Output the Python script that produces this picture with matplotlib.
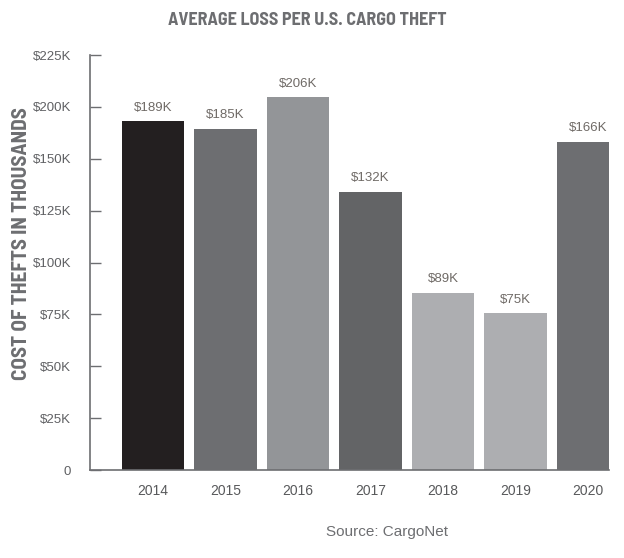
import numpy as np
import matplotlib.pyplot as plt

# Data (bar heights in $K as drawn on the axis, labels as printed)
years = ['2014', '2015', '2016', '2017', '2018', '2019', '2020']
heights = [189, 185, 202, 151, 96, 85, 178]
value_labels = ['$189K', '$185K', '$206K', '$132K', '$89K', '$75K', '$166K']
ytick_labels = ['0', '$25K', '$50K', '$75K', '$100K', '$125K', '$150K', '$200K', '$225K']
colors = ['#231f20', '#6d6e71', '#939598', '#636466', '#adaeb1', '#adaeb1', '#6d6e71']

plt.rcParams['font.family'] = ['Liberation Sans', 'DejaVu Sans']
cond = ['Barlow Semi Condensed', 'DejaVu Sans']

fig = plt.figure(figsize=(6.24, 5.58), dpi=100)
ax = fig.add_axes([0.1442, 0.1577, 0.976 - 0.1442, 0.9014 - 0.1577])

x = range(len(years))
bars = ax.bar(x, heights, width=0.86, color=colors, zorder=2)

for b, lab in zip(bars, value_labels):
    ax.annotate(lab, (b.get_x() + b.get_width() / 2, b.get_height()),
                xytext=(0, 5.5), textcoords='offset points',
                ha='center', va='bottom', fontsize=9.5, color='#6f6a66')

ax.set_ylim(0, 225)
ax.set_xlim(-0.87, 6.29)
ax.set_yticks(np.linspace(0, 225, len(ytick_labels)))
ax.set_yticklabels(ytick_labels)
ax.set_xticks(list(x))
ax.set_xticklabels(years)

for s in ['top', 'right']:
    ax.spines[s].set_visible(False)
for s in ['left', 'bottom']:
    ax.spines[s].set_color('#6d6e71')
    ax.spines[s].set_linewidth(1.2)

ax.tick_params(axis='y', direction='in', length=8, width=1, color='#6d6e71',
               pad=13.5, labelsize=9.5, labelcolor='#5f6063')
ax.tick_params(axis='x', length=0, pad=10, labelsize=10, labelcolor='#58595b')

fig.text(0.492, 0.964, 'AVERAGE LOSS PER U.S. CARGO THEFT', ha='center', va='center',
         fontsize=13, fontweight='bold', family=cond, color='#6d6e71')
fig.text(0.035, 0.563, 'COST OF THEFTS IN THOUSANDS', rotation=90, ha='center', va='center',
         fontsize=15.3, fontweight='bold', family=cond, color='#6d6e71')
fig.text(0.62, 0.047, 'Source: CargoNet', ha='center', va='center',
         fontsize=11, color='#6d6e71')

fig.savefig('out.png', dpi=100)
